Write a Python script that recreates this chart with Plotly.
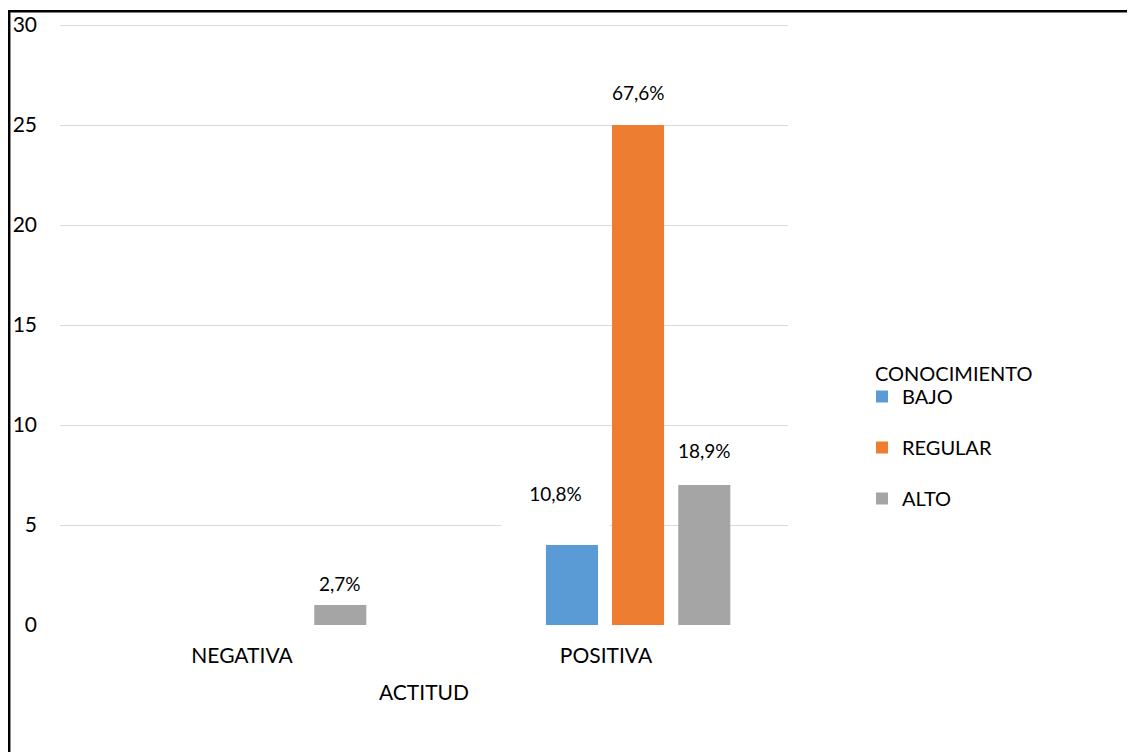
import plotly.graph_objects as go

# ---- data ----
categories = ["NEGATIVA", "POSITIVA"]
series_names = ["BAJO", "REGULAR", "ALTO"]
bajo = [None, 4]
regular = [None, 25]
alto = [1, 7]
total = 37
y_ticks = [0, 5, 10, 15, 20, 25, 30]
x_title = "ACTITUD"
legend_title = "CONOCIMIENTO"

# ---- styles ----
colors = {"BAJO": "#5B9BD5", "REGULAR": "#ED7D31", "ALTO": "#A5A5A5"}
bar_width = 0.143
bar_offset = {"BAJO": -0.165, "REGULAR": 0.0165, "ALTO": 0.1985}
cat_px = 364  # pixel width of one category
# label shifts (px) relative to bar top-center
label_shift = {
    ("ALTO", 0): (0, 22),
    ("BAJO", 1): (-16, 52),
    ("REGULAR", 1): (0, 33),
    ("ALTO", 1): (0, 35),
}
FONT = "Lato, 'Open Sans', sans-serif"

# figure geometry (page has an 8px body margin)
W, H = 1127, 744
ML, MT, PW, PH = 52, 14, 728, 603
MR = W - ML - PW
MB = H - MT - PH
Y_MAX = 30.15

values = {"BAJO": bajo, "REGULAR": regular, "ALTO": alto}

fig = go.Figure()
for name in series_names:
    fig.add_trace(go.Bar(
        x=categories, y=values[name], name=name,
        marker=dict(color=colors[name], line=dict(width=0)),
        width=bar_width, offset=bar_offset[name],
        legendgroup=name,
    ))

annotations = []
for name in series_names:
    for ci, v in enumerate(values[name]):
        if v is None:
            continue
        txt = f"{v / total * 100:.1f}%".replace(".", ",")
        center = bar_offset[name] + bar_width / 2
        dx, dy = label_shift.get((name, ci), (0, 25))
        ann = dict(
            x=ci, y=v, xref="x", yref="y", text=txt, showarrow=False,
            xshift=center * cat_px + dx, yshift=dy, yanchor="middle",
            font=dict(family=FONT, size=19, color="#000000"),
        )
        if (name, ci) == ("BAJO", 1):
            ann.update(bgcolor="white", width=105, height=70, valign="middle")
        annotations.append(ann)

def px_x(fx):
    return (fx - ML) / PW

def px_y(fy):
    return (MT + PH - fy) / PH

# legend title as annotation
annotations.append(dict(
    x=px_x(865), y=px_y(365), xref="paper", yref="paper",
    xanchor="left", yanchor="middle", showarrow=False,
    text=legend_title, font=dict(family=FONT, size=20, color="#000000"),
))

# outer border (left & top visible)
shapes = [dict(
    type="rect", xref="paper", yref="paper",
    x0=px_x(1.2), x1=2.0, y0=-1.0, y1=px_y(3.3),
    line=dict(color="black", width=2.5), fillcolor="rgba(0,0,0,0)",
    layer="above",
)]

fig.update_layout(
    width=W, height=H,
    margin=dict(l=ML, r=MR, t=MT, b=MB, autoexpand=False),
    paper_bgcolor="white", plot_bgcolor="white",
    barmode="overlay",
    font=dict(family=FONT, size=21, color="#000000"),
    xaxis=dict(
        type="category", showgrid=False, showline=False, zeroline=False,
        ticks="", ticklabelstandoff=16, automargin=False,
        title=dict(text=x_title, font=dict(size=21), standoff=19),
    ),
    yaxis=dict(
        range=[0, Y_MAX], tickvals=y_ticks, showgrid=True,
        gridcolor="#D9D9D9", gridwidth=1.3, zeroline=False, showline=False,
        ticks="", ticklabelstandoff=22, automargin=False,
    ),
    legend=dict(
        x=px_x(854), y=px_y(439.5), xanchor="left", yanchor="middle",
        xref="paper", yref="paper",
        font=dict(size=20), tracegroupgap=22, itemclick=False,
        bgcolor="rgba(0,0,0,0)",
    ),
    annotations=annotations,
    shapes=shapes,
)

fig.write_html("out.html")
